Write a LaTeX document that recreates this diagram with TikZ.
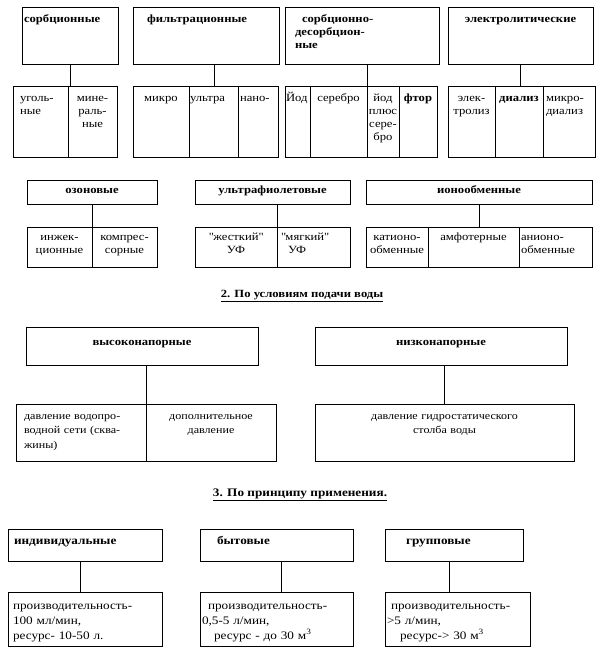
\documentclass[tikz,border=0pt]{standalone}
\usepackage{fontspec}
\setmainfont{Liberation Serif}[FakeStretch=1.15]
\usetikzlibrary{positioning}

\newcommand{\fsA}{\fontsize{11}{13}\selectfont}
\newcommand{\fsB}{\fontsize{10.5}{14.5}\selectfont}
\newcommand{\fsC}{\fontsize{11.5}{15}\selectfont}

\begin{document}
\begin{tikzpicture}[x=1pt, y=-1pt, line width=0.9pt]
\tikzstyle{box} = [draw, anchor=north west, outer sep=0pt,
    inner xsep=2pt, inner ysep=2pt, align=left, font=\fsA]
\tikzstyle{head} = [box, font=\fsA\bfseries]
\tikzstyle{rowA} = [text height=13pt, text depth=40pt]
\tikzstyle{rowB} = [text height=13pt, text depth=54pt]
\tikzstyle{rowC} = [text height=11pt, text depth=9pt]
\tikzstyle{rowD} = [text height=11pt, text depth=25pt]
\tikzstyle{rowE} = [text height=16pt, text depth=18pt]
\tikzstyle{rowF} = [text height=13pt, text depth=40pt, font=\fsB]
\tikzstyle{rowG} = [text height=13pt, text depth=15pt, font=\fsC\bfseries]
\tikzstyle{rowH} = [text height=15pt, text depth=35pt, font=\fsC]

\useasboundingbox (0,0) rectangle (605,656);

% --- 1: top row and its parts ---
\node (sorb) [head, rowA, text width=92pt] at (22,7) {сорбционные};
\node (filt) [head, rowA, inner xsep=14pt, text width=118pt, right=15pt of sorb]
    {фильтрационные};
\node (sdes) [head, rowA, inner xsep=10pt, text width=134pt, right=6pt of filt]
    {\hspace*{7pt}сорбционно-\\десорбцион-\\ные};
\node (elec) [head, rowA, align=center, text width=141pt, right=9pt of sdes]
    {электролитические};

\node (ugol) [box, rowB, inner xsep=7pt, text width=41pt,
    below right=22pt and -9pt of sorb.south west] {уголь-\\ные};
\node (mine) [box, rowB, align=center, text width=45pt, right=0pt of ugol]
    {мине-\\раль-\\ные};
\node (mikro) [box, rowB, align=center, text width=52pt,
    below right=22pt and 0pt of filt.south west] {микро};
\node (ultra) [box, rowB, inner xsep=1pt, text width=47pt, right=0pt of mikro]
    {ультра};
\node (nano) [box, rowB, text width=36pt, right=0pt of ultra] {нано-};
\node (yod) [box, rowB, inner xsep=1pt, text width=23pt,
    below right=22pt and 0pt of sdes.south west] {Йод};
\node (sereb) [box, rowB, align=center, text width=53pt, right=0pt of yod]
    {серебро};
\node (yplus) [box, rowB, align=center, inner xsep=1pt, text width=30pt,
    right=0pt of sereb] {йод\\плюс\\сере-\\бро};
\node (ftor) [box, rowB, align=center, font=\fsA\bfseries, text width=34pt,
    right=0pt of yplus] {фтор};
\node (elek) [box, rowB, align=center, text width=43pt,
    below right=22pt and 0pt of elec.south west] {элек-\\тролиз};
\node (dial) [box, rowB, align=center, font=\fsA\bfseries, text width=44pt,
    right=0pt of elek] {диализ};
\node (mdial) [box, rowB, inner xsep=3pt, text width=46pt, right=0pt of dial]
    {микро-\\диализ};

% --- 1: second row ---
\node (ozon) [head, rowC, align=center, text width=126pt] at (27,180) {озоновые};
\node (uflt) [head, rowC, align=center, text width=151pt, right=38pt of ozon]
    {ультрафиолетовые};
\node (ionx) [head, rowC, align=center, text width=222pt, right=16pt of uflt]
    {ионообменные};

\node (inj) [box, rowD, align=center, text width=61pt,
    below right=23pt and 0pt of ozon.south west] {инжек-\\ционные};
\node (komp) [box, rowD, align=center, text width=61pt, right=0pt of inj]
    {компрес-\\сорные};
\node (zhes) [box, rowD, align=center, text width=78pt,
    below right=23pt and 0pt of uflt.south west]
    {\textquotedbl жесткий\textquotedbl\\УФ};
\node (myag) [box, rowD, inner xsep=4pt, text width=65pt, right=0pt of zhes]
    {\textquotedbl мягкий\textquotedbl\\\hspace*{7pt}УФ};
\node (kati) [box, rowD, align=center, text width=58pt,
    below right=23pt and 0pt of ionx.south west] {катионо-\\обменные};
\node (amfo) [box, rowD, align=center, text width=87pt, right=0pt of kati]
    {амфотерные};
\node (anio) [box, rowD, text width=69pt, right=0pt of amfo]
    {анионо-\\обменные};

% --- 2 ---
\node (title2) at (302,296) {\fsA\bfseries\underline{2. По условиям подачи воды}};
\node (hinap) [head, rowE, align=center, text width=228pt] at (26,327)
    {высоконапорные};
\node (lonap) [head, rowE, align=center, text width=248pt, right=57pt of hinap]
    {низконапорные};
\node (dvod) [box, rowF, inner xsep=8pt, text width=114pt,
    below right=39pt and -10pt of hinap.south west]
    {давление водопро-\\водной сети (сква-\\жины)};
\node (dopd) [box, rowF, align=center, text width=126pt, right=0pt of dvod]
    {дополнительное\\давление};
\node (gidr) [box, rowF, align=center, text width=255pt,
    below right=39pt and 0pt of lonap.south west]
    {давление гидростатического\\столба воды};

% --- 3 ---
\node (title3) at (300,495) {\fsC\bfseries\underline{3. По принципу применения.}};
\node (indv) [head, rowG, inner xsep=6pt, text width=142pt] at (8,529)
    {индивидуальные};
\node (bytv) [head, rowG, inner xsep=17pt, text width=119pt, right=38pt of indv]
    {бытовые};
\node (grup) [head, rowG, inner xsep=21pt, text width=96pt, right=32pt of bytv]
    {групповые};
\node (pind) [box, rowH, inner xsep=5pt, text width=144pt,
    below right=31pt and 0pt of indv.south west]
    {производительность-\\100 мл/мин,\\ресурс- 10-50 л.};
\node (pbyt) [box, rowH, text width=149pt,
    below right=31pt and 0pt of bytv.south west]
    {\hspace*{6pt}производительность-\\0,5-5 л/мин,\\\hspace*{12pt}ресурс - до 30 м\textsuperscript{3}};
\node (pgrp) [box, rowH, text width=141pt,
    below right=31pt and 0pt of grup.south west]
    {\hspace*{4pt}производительность-\\>5 л/мин,\\\hspace*{13pt}ресурс-> 30 м\textsuperscript{3}};

% connectors
\draw (sorb.south) -- (sorb.south |- ugol.north);
\coordinate (filtc) at ([xshift=8pt]filt.south);
\draw (filtc) -- (filtc |- mikro.north);
\draw (sdes.south -| yplus.north west) -- (yplus.north west);
\draw (elec.south) -- (elec.south |- elek.north);
\draw (ozon.south) -- (ozon.south |- inj.north);
\draw (uflt.south -| myag.north west) -- (myag.north west);
\draw (ionx.south) -- (ionx.south |- kati.north);
\draw (hinap.south -| dopd.north west) -- (dopd.north west);
\draw (gidr.north |- lonap.south) -- (gidr.north);
\coordinate (indc) at ([xshift=-5pt]indv.south);
\draw (indc) -- (indc |- pind.north);
\coordinate (bytc) at ([xshift=5pt]bytv.south);
\draw (bytc) -- (bytc |- pbyt.north);
\coordinate (grpc) at ([xshift=-5pt]grup.south);
\draw (grpc) -- (grpc |- pgrp.north);
\end{tikzpicture}
\end{document}
